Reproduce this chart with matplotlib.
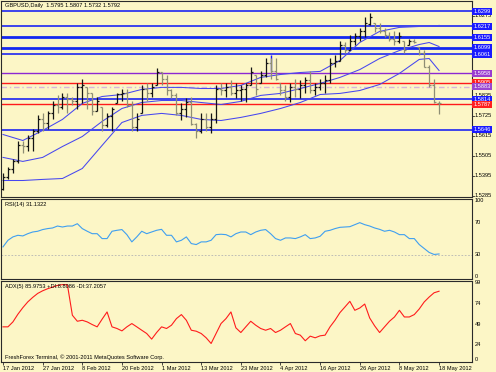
import numpy as np
import matplotlib.pyplot as plt
from matplotlib import transforms

plt.rcParams['font.family'] = ['Liberation Sans', 'DejaVu Sans']

W, H = 496, 372
bg = '#fcf6c6'
fs = 4.1

# GBPUSD daily bars, 17 Jan 2012 .. 18 May 2012
opens = [1.5324, 1.5390, 1.5429, 1.5478, 1.5561, 1.5555, 1.5599, 1.5638, 1.5709, 1.5687,
         1.5742, 1.5786, 1.5775, 1.5825, 1.5814, 1.5808, 1.5885, 1.5880, 1.5852, 1.5753,
         1.5770, 1.5671, 1.5720, 1.5792, 1.5841, 1.5852, 1.5786, 1.5665, 1.5742, 1.5874,
         1.5852, 1.5896, 1.5962, 1.5929, 1.5863, 1.5836, 1.5742, 1.5764, 1.5797, 1.5676,
         1.5643, 1.5709, 1.5665, 1.5709, 1.5874, 1.5863, 1.5885, 1.5852, 1.5863, 1.5874,
         1.5896, 1.5946, 1.5907, 1.5946, 1.6017, 1.5973, 1.5907, 1.5863, 1.5830, 1.5885,
         1.5874, 1.5896, 1.5918, 1.5863, 1.5885, 1.5907, 1.5918, 1.6017, 1.6028, 1.6111,
         1.6083, 1.6138, 1.6160, 1.6193, 1.6226, 1.6237, 1.6204, 1.6193, 1.6166, 1.6149,
         1.6138, 1.6138, 1.6111, 1.6133, 1.6100, 1.6072, 1.5995, 1.5896, 1.5795]
highs = [1.5407, 1.5440, 1.5489, 1.5583, 1.5583, 1.5621, 1.5654, 1.5726, 1.5742, 1.5753,
         1.5808, 1.5836, 1.5847, 1.5852, 1.5825, 1.5902, 1.5924, 1.5880, 1.5852, 1.5825,
         1.5770, 1.5737, 1.5770, 1.5852, 1.5874, 1.5874, 1.5808, 1.5742, 1.5891, 1.5902,
         1.5907, 1.5984, 1.5962, 1.5946, 1.5874, 1.5847, 1.5792, 1.5819, 1.5825, 1.5687,
         1.5742, 1.5742, 1.5737, 1.5891, 1.5907, 1.5907, 1.5918, 1.5902, 1.5891, 1.5907,
         1.5990, 1.5946, 1.5973, 1.6039, 1.6039, 1.6039, 1.5907, 1.5891, 1.5907, 1.5929,
         1.5918, 1.5935, 1.5973, 1.5907, 1.5929, 1.5946, 1.6039, 1.6056, 1.6138, 1.6127,
         1.6166, 1.6177, 1.6204, 1.6265, 1.6292, 1.6237, 1.6232, 1.6204, 1.6182, 1.6193,
         1.6182, 1.6138, 1.6149, 1.6149, 1.6100, 1.6083, 1.6001, 1.5929, 1.5807]
lows = [1.5313, 1.5379, 1.5407, 1.5467, 1.5517, 1.5533, 1.5533, 1.5627, 1.5643, 1.5654,
        1.5709, 1.5742, 1.5764, 1.5737, 1.5781, 1.5764, 1.5792, 1.5764, 1.5726, 1.5753,
        1.5643, 1.5660, 1.5643, 1.5792, 1.5808, 1.5770, 1.5643, 1.5643, 1.5742, 1.5808,
        1.5825, 1.5891, 1.5891, 1.5836, 1.5819, 1.5726, 1.5698, 1.5715, 1.5671, 1.5599,
        1.5632, 1.5643, 1.5632, 1.5687, 1.5836, 1.5825, 1.5836, 1.5819, 1.5808, 1.5797,
        1.5891, 1.5836, 1.5907, 1.5935, 1.5929, 1.5918, 1.5836, 1.5808, 1.5797, 1.5825,
        1.5819, 1.5847, 1.5847, 1.5836, 1.5863, 1.5852, 1.5907, 1.5990, 1.6028, 1.6067,
        1.6083, 1.6111, 1.6138, 1.6155, 1.6221, 1.6182, 1.6177, 1.6155, 1.6138, 1.6111,
        1.6122, 1.6067, 1.6111, 1.6122, 1.6056, 1.5990, 1.5880, 1.5792, 1.5732]
closes = [1.5390, 1.5429, 1.5478, 1.5561, 1.5555, 1.5599, 1.5638, 1.5709, 1.5687, 1.5742,
          1.5786, 1.5775, 1.5825, 1.5814, 1.5808, 1.5885, 1.5896, 1.5852, 1.5753, 1.5808,
          1.5671, 1.5720, 1.5764, 1.5841, 1.5852, 1.5786, 1.5665, 1.5709, 1.5874, 1.5852,
          1.5885, 1.5962, 1.5929, 1.5863, 1.5836, 1.5742, 1.5764, 1.5797, 1.5676, 1.5643,
          1.5709, 1.5665, 1.5709, 1.5874, 1.5863, 1.5885, 1.5852, 1.5863, 1.5874, 1.5896,
          1.5962, 1.5874, 1.5946, 1.6017, 1.5973, 1.5929, 1.5863, 1.5830, 1.5885, 1.5874,
          1.5896, 1.5918, 1.5863, 1.5885, 1.5907, 1.5918, 1.6017, 1.6028, 1.6111, 1.6083,
          1.6138, 1.6160, 1.6193, 1.6237, 1.6265, 1.6204, 1.6193, 1.6166, 1.6149, 1.6138,
          1.6160, 1.6083, 1.6133, 1.6127, 1.6072, 1.5995, 1.5896, 1.5797, 1.5792]

# band lines read every 4 bars
band_idx = [0, 4, 8, 12, 16, 20, 24, 28, 32, 36, 40, 44, 48, 52, 56, 60, 64, 68, 72, 76, 80, 84, 86, 88]
band_upper = [1.5621, 1.5588, 1.5643, 1.5704, 1.5792, 1.5830, 1.5841, 1.5869, 1.5880, 1.5880,
              1.5874, 1.5874, 1.5891, 1.5935, 1.5951, 1.5962, 1.5968, 1.6028, 1.6127, 1.6188,
              1.6210, 1.6215, 1.6215, 1.6221]
band_mid = [1.5495, 1.5473, 1.5495, 1.5555, 1.5610, 1.5693, 1.5764, 1.5797, 1.5808, 1.5808,
            1.5797, 1.5786, 1.5803, 1.5836, 1.5847, 1.5874, 1.5902, 1.5935, 1.5978, 1.6039,
            1.6083, 1.6116, 1.6127, 1.6105]
band_lower = [1.5368, 1.5368, 1.5374, 1.5379, 1.5434, 1.5561, 1.5687, 1.5726, 1.5737, 1.5726,
              1.5704, 1.5698, 1.5715, 1.5737, 1.5764, 1.5797, 1.5841, 1.5847, 1.5863, 1.5896,
              1.5957, 1.6034, 1.6039, 1.5973]

# horizontal levels drawn on the chart
levels = [1.6299, 1.6217, 1.6155, 1.6099, 1.6061, 1.5958, 1.5905, 1.5883, 1.5814, 1.5787, 1.5646]
level_kind = ['b', 'b', 'B', 'B', 'b', 'p', 'r', 'd', 'b', 'r', 'b']
marker_x = 54
marker_lo, marker_hi = 1.5973, 1.6056

# price scale labels that are not hidden behind the level boxes
price_ticks = [1.6275, 1.5945, 1.5835, 1.5725, 1.5615, 1.5505, 1.5395, 1.5285]

rsi = [39.9, 48.1, 52.3, 54.3, 53.5, 56.3, 58.4, 59.3, 61.4, 62.6,
       63.4, 65.8, 64.6, 65.8, 65.8, 68.7, 62.6, 59.3, 56.3, 56.3,
       50.2, 50.2, 59.3, 60.5, 61.4, 55.1, 46.1, 52.3, 59.3, 56.3,
       58.4, 60.5, 61.7, 54.3, 54.3, 46.1, 48.1, 52.3, 44.0, 42.8,
       46.1, 46.1, 48.1, 55.1, 55.6, 55.1, 52.3, 56.3, 58.4, 58.4,
       55.1, 58.4, 60.5, 61.4, 56.3, 50.2, 48.1, 51.0, 51.0, 50.2,
       52.3, 55.1, 50.2, 51.0, 53.1, 59.3, 60.5, 62.6, 64.2, 64.6,
       65.0, 67.5, 70.0, 67.5, 65.8, 63.4, 61.7, 59.3, 60.5, 58.4,
       55.1, 55.1, 50.2, 50.2, 42.8, 37.9, 33.0, 30.5, 31.1]
adx = [42.7, 42.7, 48.7, 58.0, 66.0, 73.0, 78.5, 83.3, 86.5, 89.0,
       91.0, 93.0, 94.0, 93.8, 56.8, 49.5, 50.7, 48.7, 45.5, 42.7,
       52.0, 60.8, 42.7, 40.7, 37.8, 42.7, 46.7, 42.7, 38.6, 34.6,
       27.8, 35.8, 42.7, 40.7, 44.7, 52.7, 57.6, 50.7, 38.6, 37.4,
       34.6, 29.4, 22.5, 34.6, 46.7, 52.7, 60.8, 41.5, 35.8, 42.7,
       49.5, 44.7, 40.7, 38.6, 40.7, 35.8, 38.6, 42.7, 46.7, 34.6,
       32.6, 25.8, 31.4, 29.4, 31.8, 32.6, 42.7, 50.7, 60.0, 66.8,
       73.7, 62.8, 65.6, 70.4, 53.5, 43.9, 35.8, 42.7, 49.5, 54.7,
       62.8, 54.7, 54.7, 57.6, 64.4, 72.9, 78.9, 84.1, 85.97]

date_idx = [0, 8, 16, 24, 32, 40, 48, 56, 64, 72, 80, 88]
date_labels = ['17 Jan 2012', '27 Jan 2012', '8 Feb 2012', '20 Feb 2012', '1 Mar 2012',
               '13 Mar 2012', '23 Mar 2012', '4 Apr 2012', '16 Apr 2012', '26 Apr 2012',
               '8 May 2012', '18 May 2012']


def rect(x0, y0, x1, y1):
    return [x0 / W, 1 - y1 / H, (x1 - x0) / W, (y1 - y0) / H]


fig = plt.figure(figsize=(W / 100, H / 100), dpi=100, facecolor=bg)
ax = fig.add_axes(rect(1, 0.5, 472, 197))
ax_rsi = fig.add_axes(rect(1, 198.5, 472, 279))
ax_adx = fig.add_axes(rect(1, 280.5, 472, 362))

for a in (ax, ax_rsi, ax_adx):
    a.set_facecolor(bg)
    a.set_xlim(-0.404, 94.65)
    a.set_yticks([])
    a.set_xticks([])
    for s in a.spines.values():
        s.set_color('#2a2a2a')
        s.set_linewidth(0.8)

# price bars
x = np.arange(len(closes))
o = np.array(opens)
c = np.array(closes)
col = np.where(c >= o, '#141414', '#8e8e74')
ax.vlines(x, lows, highs, colors=col, lw=0.9, zorder=3)
ax.hlines(o, x - 0.4, x, colors=col, lw=0.9, zorder=3)
ax.hlines(c, x, x + 0.4, colors=col, lw=0.9, zorder=3)

for band in (band_upper, band_mid, band_lower):
    ax.plot(band_idx, band, color='#4646f0', lw=0.75, zorder=2)

styles = {
    'b': dict(color='#0a14f5', lw=1.1, ls='-'),
    'B': dict(color='#1428f0', lw=2.0, ls='-'),
    'p': dict(color='#8c28d2', lw=1.0, ls='-'),
    'r': dict(color='#ff1a1a', lw=1.0, ls='-'),
    'd': dict(color='#d8b4dc', lw=1.0, ls=(0, (4, 2, 1, 2))),
}
box_col = {'b': '#1a1aff', 'B': '#1a1aff', 'p': '#9a3cd0', 'r': '#ff2020', 'd': '#9a46d0'}
ax.vlines(marker_x, marker_lo, marker_hi, color='#1a1aff', lw=1.0, zorder=2)

ax.set_ylim(1.6358 - 0.00055 * 196.5, 1.6358)
tr = transforms.blended_transform_factory(ax.transAxes, ax.transData)
for p in price_ticks:
    ax.text(1.0065, p, f'{p:.4f}', transform=tr, fontsize=fs, va='center', ha='left', clip_on=False)
    ax.plot([1.0, 1.004], [p, p], transform=tr, color='#2a2a2a', lw=0.6, clip_on=False)

for lv, k in zip(levels, level_kind):
    ax.axhline(lv, zorder=1.5, **styles[k])
    ax.text(1.003, lv, f'{lv:.4f}', transform=tr, fontsize=fs, color='white', va='center',
            ha='left', clip_on=False, zorder=5,
            bbox=dict(boxstyle='square,pad=0.18', fc=box_col[k], ec='none'))

fig.text(5 / W, 1 - 6 / H, 'GBPUSD,Daily  1.5795 1.5807 1.5732 1.5792', fontsize=fs, va='center')

# RSI panel
ax_rsi.set_ylim(0, 100)
ax_rsi.plot(x, rsi, color='#3f9ff0', lw=0.8)
ax_rsi.axhline(30, color='#b4b4b4', lw=0.6, ls=(0, (2, 2)))
tr_r = transforms.blended_transform_factory(ax_rsi.transAxes, ax_rsi.transData)
for v, va in [(100, 'top'), (70, 'center'), (30, 'center'), (0, 'bottom')]:
    ax_rsi.text(1.0065, v, str(v), transform=tr_r, fontsize=fs, va=va, ha='left', clip_on=False)
ax_rsi.text(0.008, 0.93, 'RSI(14) 31.1322', transform=ax_rsi.transAxes, fontsize=fs, va='center')

# ADX panel
ax_adx.set_ylim(0, 99)
ax_adx.plot(x, adx, color='#ff1c1c', lw=0.8)
tr_a = transforms.blended_transform_factory(ax_adx.transAxes, ax_adx.transData)
for v, va in [(99, 'top'), (74, 'top'), (49, 'top'), (24, 'top'), (0, 'bottom')]:
    ax_adx.text(1.0065, v, str(v), transform=tr_a, fontsize=fs, va=va, ha='left', clip_on=False)
ax_adx.text(0.008, 0.93, 'ADX(5) 85.9753 +DI:8.8086 -DI:37.2057', transform=ax_adx.transAxes,
            fontsize=fs, va='center')
ax_adx.text(0.008, 0.06, 'FreshForex Terminal, \u00a9 2001-2011 MetaQuotes Software Corp.',
            transform=ax_adx.transAxes, fontsize=fs, va='center')

ax_adx.set_xticks(date_idx)
ax_adx.set_xticklabels(date_labels, ha='left', fontsize=fs)
ax_adx.tick_params(axis='x', length=2, width=0.6, pad=0.8, color='#2a2a2a')

fig.savefig('out.png', dpi=100, facecolor=bg)
